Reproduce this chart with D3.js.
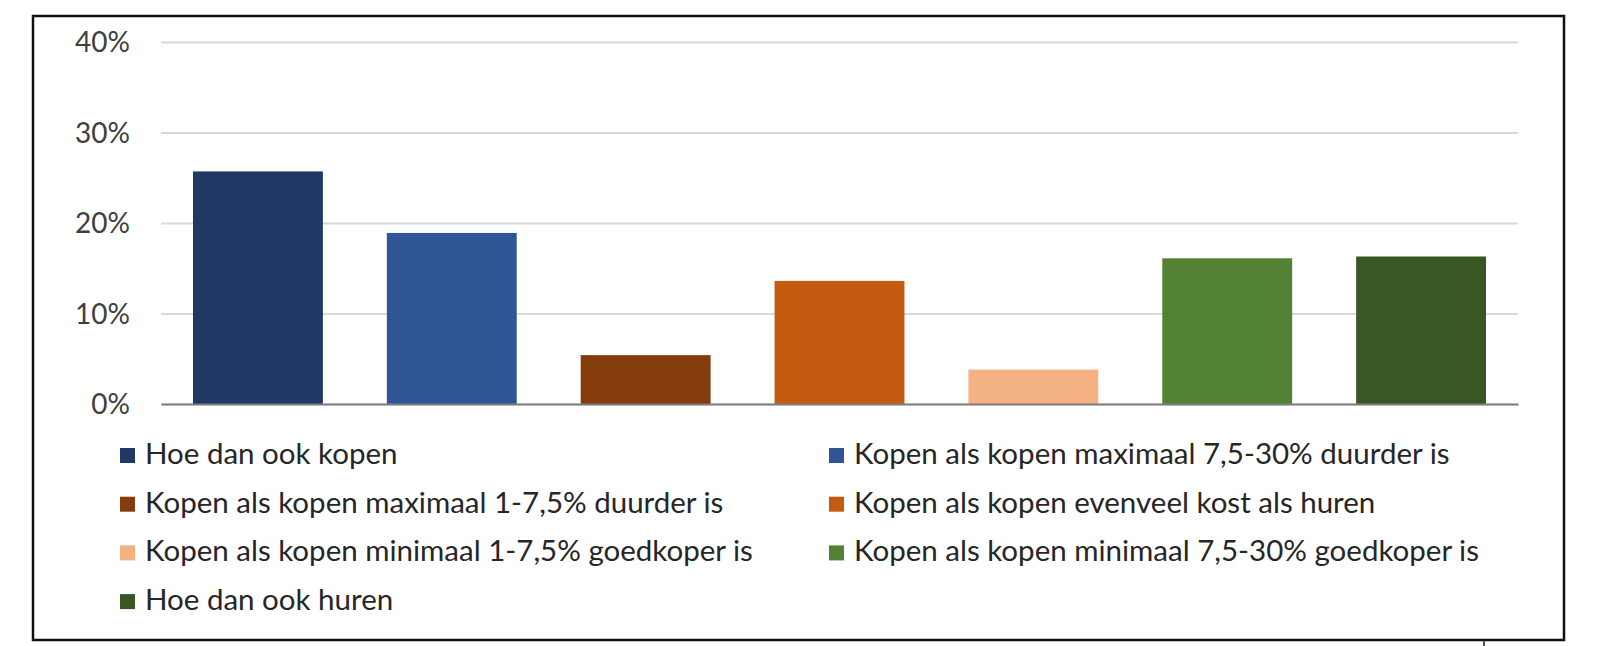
<!DOCTYPE html>
<html>
<head>
<meta charset="utf-8">
<script src="https://cdn.jsdelivr.net/npm/d3@7"></script>
<style>
  html, body { margin: 0; padding: 0; background: #fff; }
  svg { display: block; }
</style>
</head>
<body>
<svg id="chart" width="1600" height="646"></svg>
<script>
const categories = [
  "Hoe dan ook kopen",
  "Kopen als kopen maximaal 7,5-30% duurder is",
  "Kopen als kopen maximaal 1-7,5% duurder is",
  "Kopen als kopen evenveel kost als huren",
  "Kopen als kopen minimaal 1-7,5% goedkoper is",
  "Kopen als kopen minimaal 7,5-30% goedkoper is",
  "Hoe dan ook huren"
];
const values = [25.7, 18.9, 5.4, 13.6, 3.8, 16.1, 16.3];
const colors = ["#203864", "#2F5597", "#843C0C", "#C55A11", "#F4B183", "#548235", "#385723"];
const yTicks = [0, 10, 20, 30, 40];

(function () {
const FONT = "Lato, 'Liberation Sans', sans-serif";
const svg = d3.select("#chart");

svg.append("rect").attr("x", 0).attr("y", 0).attr("width", 1600).attr("height", 646).attr("fill", "#fff");

// outer frame
svg.append("rect")
  .attr("x", 33).attr("y", 16).attr("width", 1531).attr("height", 624)
  .attr("fill", "none").attr("stroke", "#111").attr("stroke-width", 2.5);
svg.append("line").attr("x1", 1484).attr("x2", 1484).attr("y1", 640).attr("y2", 646)
  .attr("stroke", "#222").attr("stroke-width", 1.5);

const pLeft = 161, pRight = 1518, pTop = 42, pBottom = 404;

const x = d3.scaleBand().domain(categories).range([pLeft, pRight])
  .paddingInner(0.33).paddingOuter(0.165);
const y = d3.scaleLinear().domain([0, 40]).range([pBottom, pTop]);

// y axis with gridlines
const yAxis = svg.append("g")
  .attr("transform", `translate(${pLeft},0)`)
  .call(d3.axisLeft(y).tickValues(yTicks).tickFormat(d => d + "%")
    .tickSize(-(pRight - pLeft)).tickPadding(31));
yAxis.select(".domain").remove();
yAxis.selectAll(".tick line").attr("stroke", "#d9d9d9").attr("stroke-width", 2);
yAxis.selectAll(".tick text")
  .attr("font-family", FONT).attr("font-size", 28).attr("fill", "#404040")
  .attr("dy", "0.35em");

// bars
svg.append("g").selectAll("rect").data(categories).join("rect")
  .attr("x", d => x(d))
  .attr("width", x.bandwidth())
  .attr("y", (d, i) => y(values[i]))
  .attr("height", (d, i) => y(0) - y(values[i]))
  .attr("fill", (d, i) => colors[i]);

// baseline
const xAxis = svg.append("g")
  .attr("transform", `translate(0,${pBottom})`)
  .call(d3.axisBottom(x).tickSize(0).tickFormat(""));
xAxis.select(".domain").attr("stroke", "#7f7f7f").attr("stroke-width", 2);
xAxis.selectAll(".tick").remove();

// legend
const colSwatchX = [120, 829];
const rowBase = 464, rowStep = 48.7;
const leg = svg.append("g").selectAll("g").data(categories).join("g")
  .attr("transform", (d, i) => `translate(${colSwatchX[i % 2]},${rowBase + Math.floor(i / 2) * rowStep})`);
leg.append("rect")
  .attr("x", 0).attr("y", -16).attr("width", 15).attr("height", 15)
  .attr("fill", (d, i) => colors[i]);
leg.append("text")
  .attr("x", 25).attr("y", 0)
  .attr("font-family", FONT).attr("font-size", 29.5).attr("fill", "#262626")
  .text(d => d);
})();
</script>
</body>
</html>
